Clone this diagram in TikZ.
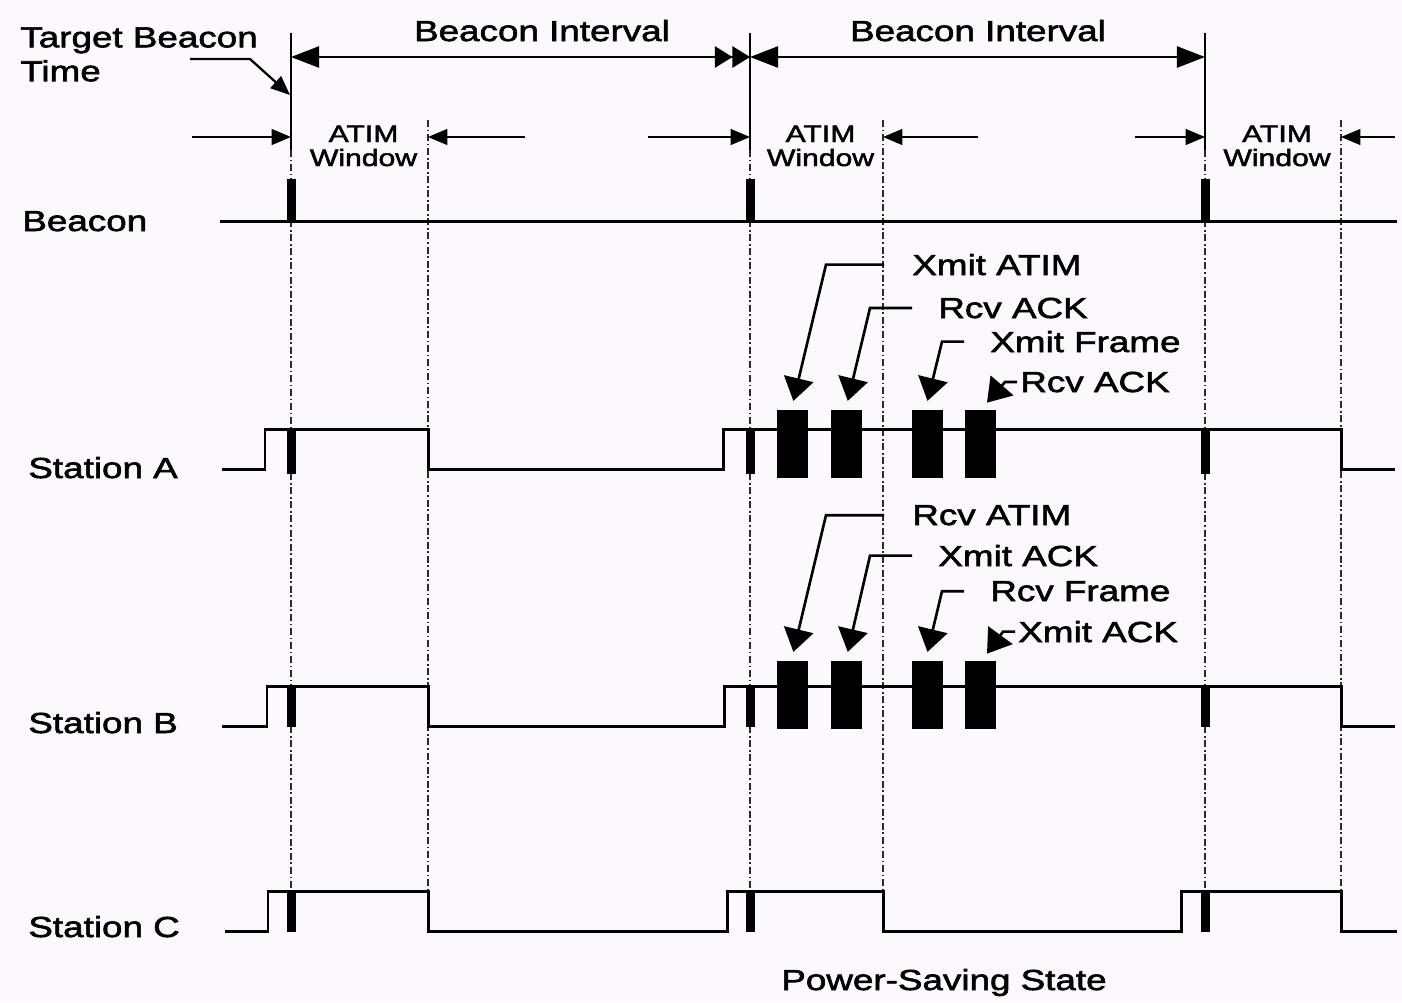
\documentclass[tikz,border=0pt]{standalone}
\usepackage{fontspec}
\setmainfont{Liberation Sans}[FakeStretch=1.27, FakeBold=2]
\usetikzlibrary{arrows.meta}
\definecolor{pagebg}{HTML}{FDF8FD}
\definecolor{gridink}{HTML}{2A2A2A}

\begin{document}
\begin{tikzpicture}[x=0.02cm, y=-0.02cm,
    every node/.style={inner sep=0pt, font=\fontsize{16.5}{19.3}\selectfont},
    rowlabel/.style={anchor=base west},
    notelabel/.style={anchor=base west},
    winlabel/.style={anchor=base, font=\fontsize{13.5}{13.6}\selectfont},
    signal/.style={line width=1.7pt, line join=miter},
    tbtline/.style={line width=1.3pt},
    gridline/.style={gridink, line width=0.8pt, dash pattern=on 4pt off 1.5pt on 1pt off 1.5pt},
    intarrow/.style={line width=1.4pt, {Triangle[length=16pt,width=12pt]}-{Triangle[length=16pt,width=12pt]}},
    dblarrow/.style={line width=1.4pt, {Triangle[length=16pt,width=12pt]}-{Triangle[length=10pt,width=12pt]Triangle[length=10pt,width=12pt]}},
    winarrow/.style={line width=1pt, -{Triangle[length=11pt,width=9pt]}},
    callout/.style={line width=1.5pt, line join=miter, -{Triangle[length=13pt,width=17pt]}},
    dataframe/.style={fill=black, minimum width=0.62cm, minimum height=1.36cm}]
  \fill[pagebg] (0,0) rectangle (1402,1002);
  \useasboundingbox (0,0) rectangle (1402,1002);

  \foreach \t/\w/\la/\ra [count=\i] in {291/428/192/525, 750/883/648/978, 1205/1341/1135/1395} {
    \draw[gridline] (\t,150) -- (\t,891);
    \draw[gridline] (\w,120) -- (\w,891);
    \draw[tbtline] (\t,33) -- (\t,150);
    \coordinate (tb\i) at (\t,137);
    \coordinate (we\i) at (\w,137);
    \coordinate (wl\i) at (\la,137);
    \coordinate (wr\i) at (\ra,137);
    \coordinate (bi\i) at (\t,57);
    \draw[winarrow] (wl\i) -- (tb\i);
    \draw[winarrow] (wr\i) -- (we\i);
    \node[winlabel] (atim\i) at ({(\t+\w)/2+4},142) {ATIM};
    \node[winlabel] (win\i) at ({(\t+\w)/2+4},166) {Window};
    \fill (\t-4.5,179) rectangle (\t+4.5,221);
    \fill (\t-4.5,429) rectangle (\t+4.5,474);
    \fill (\t-4.5,686) rectangle (\t+4.5,727);
    \fill (\t-4.5,891) rectangle (\t+4.5,932);
  }

  \node[anchor=north west, align=left] (tbt) at (20,27) {Target Beacon\\Time};
  \coordinate (tbtfoot) at (190,59);
  \coordinate (tbtmark) at (290,95);
  \draw[line width=1.3pt, -{Triangle[length=11pt,width=9pt]}] (tbtfoot) -- ++(60,0) -- (tbtmark);

  \node[anchor=base] (bint1) at (542,41) {Beacon Interval};
  \node[anchor=base] (bint2) at (978,41) {Beacon Interval};
  \draw[dblarrow] (bi1) -- (bi2);
  \draw[intarrow] (bi2) -- (bi3);

  \node[rowlabel] (bcn) at (22,231) {Beacon};
  \node[rowlabel] (sta) at (28,478) {Station A};
  \node[rowlabel] (stb) at (28,733) {Station B};
  \node[rowlabel] (stc) at (28,937) {Station C};

  \draw[signal] (220,221) -- (1397,221);
  \draw[signal] (222,469) -| (265,429) -| (428,469) -| (723,429) -| (1341,469) -- (1395,469);
  \draw[signal] (222,726) -| (267,686) -| (428,726) -| (724,686) -| (1341,726) -- (1395,726);
  \draw[signal] (225,931) -| (268,891) -| (428,931) -| (727,891) -| (883,931) -| (1181,891) -| (1341,931) -- (1397,931);

  \node[dataframe] (fa1) at (792.5,444) {};
  \node[dataframe] (fa2) at (846,444) {};
  \node[dataframe] (fa3) at (927.5,444) {};
  \node[dataframe] (fa4) at (980,444) {};
  \node[dataframe] (fb1) at (792.5,695) {};
  \node[dataframe] (fb2) at (846,695) {};
  \node[dataframe] (fb3) at (927.5,695) {};
  \node[dataframe] (fb4) at (980,695) {};

  \node[notelabel] (xa1) at (912,275) {Xmit ATIM};
  \node[notelabel] (ra1) at (938,318) {Rcv ACK};
  \node[notelabel] (xf1) at (990,352) {Xmit Frame};
  \node[notelabel] (ra2) at (1020,392) {Rcv ACK};
  \draw[callout] (xa1.west) ++(-28,0) -- ++(-58,0) -- ([xshift=0.5pt,yshift=5pt]fa1.north);
  \draw[callout] (ra1.west) ++(-26,0) -- ++(-42,0) -- ([xshift=1pt,yshift=5pt]fa2.north);
  \draw[callout] (xf1.west) ++(-26,0) -- ++(-22,0) -- ([yshift=5pt]fa3.north);
  \draw[callout] (ra2.west) ++(-3,0) -- ++(-12,0) -- ([xshift=4pt,yshift=4pt]fa4.north);

  \node[notelabel] (rb1) at (912,525) {Rcv ATIM};
  \node[notelabel] (xb1) at (938,566) {Xmit ACK};
  \node[notelabel] (rf1) at (990,601) {Rcv Frame};
  \node[notelabel] (xb2) at (1018,642) {Xmit ACK};
  \draw[callout] (rb1.west) ++(-28,0) -- ++(-58,0) -- ([xshift=0.5pt,yshift=5pt]fb1.north);
  \draw[callout] (xb1.west) ++(-26,0) -- ++(-42,0) -- ([xshift=1pt,yshift=5pt]fb2.north);
  \draw[callout] (rf1.west) ++(-26,0) -- ++(-22,0) -- ([yshift=5pt]fb3.north);
  \draw[callout] (xb2.west) ++(-3,0) -- ++(-12,0) -- ([xshift=4pt,yshift=4pt]fb4.north);

  \node[anchor=base] (pss) at (944,990) {Power-Saving State};
\end{tikzpicture}
\end{document}
